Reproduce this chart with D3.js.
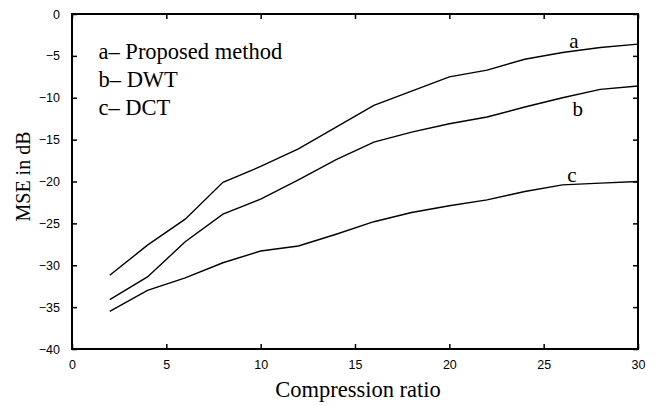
<!DOCTYPE html>
<html>
<head>
<meta charset="utf-8">
<script src="https://cdn.jsdelivr.net/npm/d3@7"></script>
<style>
  body { margin: 0; background: #fff; }
  .tick text { font-family: "Liberation Sans", Arial, sans-serif; font-size: 12.5px; fill: #000; }
  .serif { font-family: "Liberation Serif", "Times New Roman", serif; fill: #000; }
</style>
</head>
<body>
<div id="chart"></div>
<script>
const ratios = [2, 4, 6, 8, 10, 12, 14, 16, 18, 20, 22, 24, 26, 28, 30];
const proposed = [-31.2, -27.6, -24.5, -20.1, -18.2, -16.1, -13.5, -10.9, -9.2, -7.5, -6.7, -5.4, -4.6, -4.0, -3.6];
const dwt = [-34.1, -31.4, -27.2, -23.9, -22.1, -19.8, -17.4, -15.3, -14.1, -13.1, -12.3, -11.1, -10.0, -9.0, -8.6];
const dct = [-35.5, -33.0, -31.5, -29.7, -28.3, -27.7, -26.3, -24.8, -23.7, -22.9, -22.2, -21.2, -20.4, -20.2, -20.0];
const xTicks = [0, 5, 10, 15, 20, 25, 30];
const yTicks = [0, -5, -10, -15, -20, -25, -30, -35, -40];
const legendLines = ["a\u2013 Proposed method", "b\u2013 DWT", "c\u2013 DCT"];

const svg = d3.select("#chart").append("svg")
    .attr("width", 659)
    .attr("height", 406);

const margin = {top: 14, right: 21, bottom: 57, left: 72},
      width = 659 - margin.left - margin.right,
      height = 406 - margin.top - margin.bottom;

const x = d3.scaleLinear().domain([0, 30]).range([0, width]),
      y = d3.scaleLinear().domain([-40, 0]).range([height, 0]);

const g = svg.append("g")
    .attr("transform", `translate(${margin.left},${margin.top})`);

// axes, ticks pointing inward
function styleAxis(sel) {
    sel.select(".domain").remove();
    sel.selectAll(".tick line").attr("stroke", "#000").attr("stroke-width", 1.5);
}

g.append("g")
    .attr("transform", `translate(0,${height})`)
    .call(d3.axisBottom(x).tickValues(xTicks).tickSize(-5).tickPadding(11).tickFormat(d3.format("d")))
    .call(styleAxis);

g.append("g")
    .call(d3.axisTop(x).tickValues(xTicks).tickSize(-5).tickFormat(""))
    .call(styleAxis);

g.append("g")
    .call(d3.axisLeft(y).tickValues(yTicks).tickSize(-5).tickPadding(12).tickFormat(d3.format("d")))
    .call(styleAxis);

g.append("g")
    .attr("transform", `translate(${width},0)`)
    .call(d3.axisRight(y).tickValues(yTicks).tickSize(-5).tickFormat(""))
    .call(styleAxis);

g.append("rect")
    .attr("width", width)
    .attr("height", height)
    .attr("fill", "none")
    .attr("stroke", "#000")
    .attr("stroke-width", 2);

const line = d3.line()
    .x((d, i) => x(ratios[i]))
    .y(d => y(d));

[proposed, dwt, dct].forEach(s => {
    g.append("path")
        .datum(s)
        .attr("fill", "none")
        .attr("stroke", "#000")
        .attr("stroke-width", 1.4)
        .attr("d", line);
});

// curve letters
const tags = [["a", 26.6, -4.05], ["b", 26.8, -12.2], ["c", 26.5, -20.0]];
tags.forEach(t => {
    g.append("text")
        .attr("class", "serif")
        .attr("x", x(t[1]))
        .attr("y", y(t[2]))
        .attr("text-anchor", "middle")
        .style("font-size", "21px")
        .text(t[0]);
});

// legend text
legendLines.forEach((txt, i) => {
    g.append("text")
        .attr("class", "serif")
        .attr("x", 26.5)
        .attr("y", 45 + i * 28)
        .style("font-size", "22.5px")
        .text(txt);
});

svg.append("text")
    .attr("class", "serif")
    .attr("x", margin.left + width / 2 + 3)
    .attr("y", 397)
    .attr("text-anchor", "middle")
    .style("font-size", "22.5px")
    .text("Compression ratio");

svg.append("text")
    .attr("class", "serif")
    .attr("transform", `translate(30,${margin.top + height / 2 - 5}) rotate(-90)`)
    .attr("text-anchor", "middle")
    .style("font-size", "20px")
    .text("MSE in dB");
</script>
</body>
</html>
